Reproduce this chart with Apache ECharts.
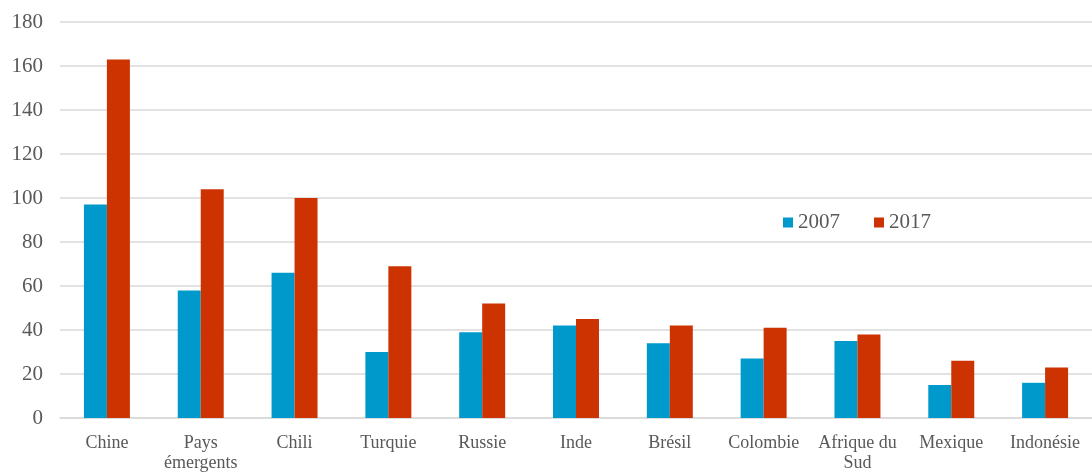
<!DOCTYPE html>
<html lang="fr">
<head>
    <meta charset="UTF-8">
    <title>2007 / 2017</title>
    <style>
        html, body { margin: 0; padding: 0; background: #fff; }
        #myChart { width: 1092px; height: 473px; }
    </style>
</head>
<body>
    <div id="myChart"></div>
</body>
<script src="https://cdn.jsdelivr.net/npm/echarts@6/dist/echarts.min.js"></script>
<script>
    let categories = ['Chine', 'Pays\némergents', 'Chili', 'Turquie', 'Russie', 'Inde',
        'Brésil', 'Colombie', 'Afrique du\nSud', 'Mexique', 'Indonésie'];
    let values2007 = [97, 58, 66, 30, 39, 42, 34, 27, 35, 15, 16];
    let values2017 = [163, 104, 100, 69, 52, 45, 42, 41, 38, 26, 23];
    let yTicks = [0, 20, 40, 60, 80, 100, 120, 140, 160, 180];

    let font = '"Liberation Serif", "Times New Roman", serif';
    let chart = echarts.init(document.getElementById('myChart'));
    let option = {
      animation: false,
      grid: { left: 60, right: 0, top: 22, bottom: 52 },
      legend: {
        data: ['2007', '2017'],
        left: 778, top: 207,
        itemWidth: 10, itemHeight: 10, itemGap: 34,
        icon: 'rect',
        textStyle: { fontFamily: font, fontSize: 21, color: '#595959' }
      },
      xAxis: {
        type: 'category',
        data: categories,
        axisLine: { lineStyle: { color: '#d9d9d9', width: 1.5 } },
        axisTick: { show: false },
        axisLabel: { fontFamily: font, fontSize: 18, color: '#595959', margin: 15, lineHeight: 20, interval: 0 }
      },
      yAxis: {
        type: 'value',
        min: yTicks[0],
        max: yTicks[yTicks.length - 1],
        interval: 20,
        axisLine: { show: false },
        axisTick: { show: false },
        splitLine: { lineStyle: { color: '#d9d9d9', width: 1.5 } },
        axisLabel: { fontFamily: font, fontSize: 21, color: '#595959', margin: 17 }
      },
      series: [{
        name: '2007',
        type: 'bar',
        data: values2007,
        itemStyle: { color: '#0099cc' },
        barGap: '0%',
        barCategoryGap: '51%'
      }, {
        name: '2017',
        type: 'bar',
        data: values2017,
        itemStyle: { color: '#cc3300' }
      }]
    };
    chart.setOption(option);
</script>
</html>
